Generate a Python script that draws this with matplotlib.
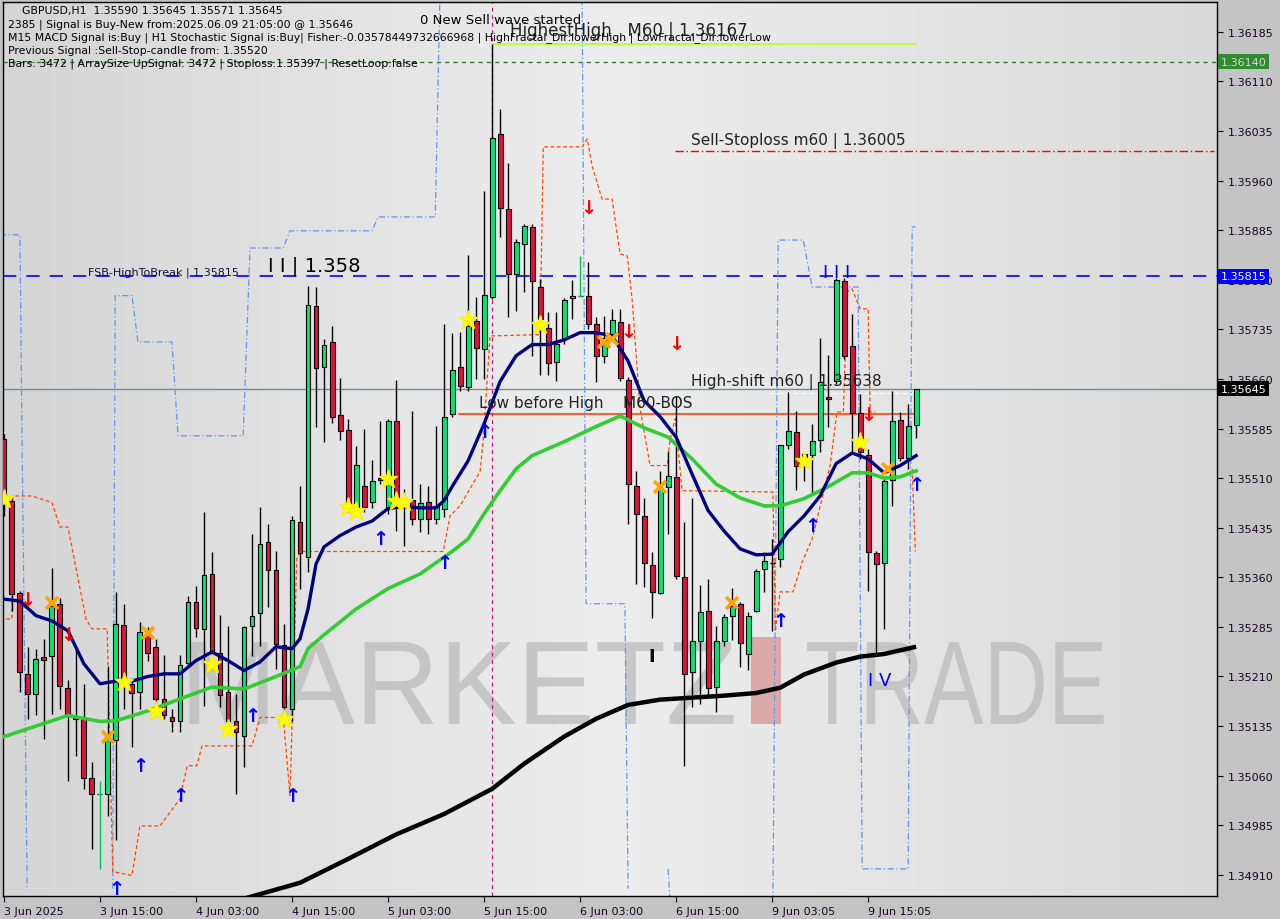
import numpy as np
import matplotlib
matplotlib.use("Agg")
import matplotlib.pyplot as plt
import matplotlib.transforms as mtransforms
from matplotlib.colors import LinearSegmentedColormap
from matplotlib.textpath import TextPath
from matplotlib.patches import PathPatch
from matplotlib.font_manager import FontProperties

# ---- candles (GBPUSD H1), index 0 = 3 Jun 2025 03:00
opens = [1.35569, 1.35476, 1.35337, 1.35214, 1.35184, 1.35240, 1.35241, 1.35320, 1.35193, 1.35149,
         1.35146, 1.35057, 1.35033, 1.35033, 1.35114, 1.35288, 1.35199, 1.35187, 1.35272, 1.35255,
         1.35176, 1.35148, 1.35143, 1.35231, 1.35323, 1.35282, 1.35365, 1.35246, 1.35187, 1.35143,
         1.35120, 1.35287, 1.35306, 1.35414, 1.35371, 1.35258, 1.35161, 1.35444, 1.35391, 1.35770,
         1.35678, 1.35716, 1.35606, 1.35583, 1.35464, 1.35498, 1.35474, 1.35510, 1.35464, 1.35597,
         1.35479, 1.35477, 1.35448, 1.35474, 1.35448, 1.35464, 1.35607, 1.35678, 1.35648, 1.35748,
         1.35705, 1.35784, 1.36031, 1.35917, 1.35819, 1.35864, 1.35890, 1.35799, 1.35737, 1.35686,
         1.35721, 1.35783, 1.35786, 1.35786, 1.35743, 1.35695, 1.35728, 1.35746, 1.35659, 1.35498,
         1.35453, 1.35379, 1.35337, 1.35497, 1.35512, 1.35360, 1.35217, 1.35264, 1.35309, 1.35194,
         1.35264, 1.35302, 1.35320, 1.35244, 1.35309, 1.35373, 1.35382, 1.35388, 1.35560, 1.35580,
         1.35547, 1.35545, 1.35568, 1.35633, 1.35657, 1.35808, 1.35710, 1.35609, 1.35545, 1.35396,
         1.35382, 1.35507, 1.35598, 1.35541, 1.35590]
highs = [1.35577, 1.35479, 1.35340, 1.35255, 1.35252, 1.35267, 1.35374, 1.35329, 1.35205, 1.35256,
         1.35199, 1.35081, 1.35052, 1.35226, 1.35338, 1.35320, 1.35207, 1.35293, 1.35285, 1.35267,
         1.35243, 1.35161, 1.35243, 1.35332, 1.35347, 1.35458, 1.35399, 1.35303, 1.35287, 1.35184,
         1.35287, 1.35426, 1.35467, 1.35441, 1.35400, 1.35290, 1.35453, 1.35498, 1.35801, 1.35799,
         1.35721, 1.35740, 1.35662, 1.35600, 1.35559, 1.35585, 1.35538, 1.35597, 1.35600, 1.35659,
         1.35494, 1.35612, 1.35501, 1.35498, 1.35589, 1.35743, 1.35730, 1.35731, 1.35848, 1.35784,
         1.35944, 1.36167, 1.36068, 1.35987, 1.35872, 1.35894, 1.35894, 1.35811, 1.35761, 1.35761,
         1.35783, 1.35810, 1.35846, 1.35837, 1.35754, 1.35755, 1.35766, 1.35766, 1.35663, 1.35521,
         1.35480, 1.35399, 1.35521, 1.35551, 1.35634, 1.35444, 1.35480, 1.35349, 1.35358, 1.35287,
         1.35305, 1.35344, 1.35323, 1.35308, 1.35373, 1.35399, 1.35418, 1.35560, 1.35640, 1.35612,
         1.35548, 1.35592, 1.35722, 1.35696, 1.35813, 1.35813, 1.35758, 1.35637, 1.35554, 1.35400,
         1.35509, 1.35642, 1.35610, 1.35622, 1.35645]
lows = [1.35453, 1.35309, 1.35187, 1.35146, 1.35151, 1.35116, 1.35154, 1.35161, 1.35052, 1.35090,
        1.35040, 1.34949, 1.34919, 1.34999, 1.34962, 1.35161, 1.35104, 1.35161, 1.35234, 1.35154,
        1.35146, 1.35126, 1.35126, 1.35226, 1.35270, 1.35166, 1.35222, 1.35164, 1.35126, 1.35033,
        1.35073, 1.35241, 1.35256, 1.35315, 1.35222, 1.35151, 1.35142, 1.35343, 1.35368, 1.35588,
        1.35565, 1.35594, 1.35568, 1.35459, 1.35456, 1.35459, 1.35465, 1.35501, 1.35456, 1.35430,
        1.35408, 1.35439, 1.35429, 1.35426, 1.35441, 1.35451, 1.35603, 1.35642, 1.35642, 1.35660,
        1.35660, 1.35781, 1.35875, 1.35754, 1.35763, 1.35792, 1.35695, 1.35666, 1.35666, 1.35657,
        1.35713, 1.35751, 1.35786, 1.35736, 1.35656, 1.35684, 1.35721, 1.35657, 1.35441, 1.35350,
        1.35346, 1.35299, 1.35334, 1.35426, 1.35358, 1.35075, 1.35164, 1.35169, 1.35179, 1.35157,
        1.35256, 1.35265, 1.35225, 1.35220, 1.35308, 1.35338, 1.35279, 1.35376, 1.35554, 1.35492,
        1.35506, 1.35486, 1.35550, 1.35588, 1.35653, 1.35690, 1.35550, 1.35539, 1.35340, 1.35241,
        1.35282, 1.35468, 1.35536, 1.35524, 1.35571]
closes = [1.35479, 1.35335, 1.35217, 1.35184, 1.35237, 1.35235, 1.35317, 1.35196, 1.35151, 1.35145,
          1.35057, 1.35033, 1.35033, 1.35116, 1.35290, 1.35199, 1.35185, 1.35278, 1.35246, 1.35176,
          1.35151, 1.35142, 1.35228, 1.35323, 1.35284, 1.35364, 1.35247, 1.35182, 1.35142, 1.35126,
          1.35285, 1.35302, 1.35411, 1.35371, 1.35259, 1.35164, 1.35447, 1.35396, 1.35772, 1.35677,
          1.35712, 1.35603, 1.35581, 1.35465, 1.35530, 1.35467, 1.35506, 1.35507, 1.35597, 1.35467,
          1.35471, 1.35448, 1.35473, 1.35448, 1.35468, 1.35603, 1.35674, 1.35650, 1.35740, 1.35707,
          1.35787, 1.36025, 1.35919, 1.35819, 1.35867, 1.35891, 1.35808, 1.35751, 1.35684, 1.35713,
          1.35780, 1.35786, 1.35786, 1.35743, 1.35695, 1.35722, 1.35749, 1.35662, 1.35501, 1.35456,
          1.35382, 1.35338, 1.35494, 1.35513, 1.35362, 1.35213, 1.35264, 1.35308, 1.35193, 1.35264,
          1.35300, 1.35317, 1.35261, 1.35302, 1.35370, 1.35385, 1.35382, 1.35560, 1.35581, 1.35529,
          1.35536, 1.35566, 1.35656, 1.35630, 1.35810, 1.35695, 1.35609, 1.35550, 1.35399, 1.35380,
          1.35506, 1.35597, 1.35541, 1.35589, 1.35645]
green_dojis = [12, 72]

# ---- moving averages (candle index, price)
navy_i = [0, 2, 4, 6, 8, 10, 12, 14, 16, 18, 20, 22, 24, 26, 28, 30, 32, 34, 36, 37, 38, 39,
          40, 42, 44, 46, 48, 50, 52, 54, 55, 56, 58, 60, 62, 64, 66, 68, 70, 72, 74, 76, 78,
          80, 82, 84, 86, 88, 90, 92, 94, 96, 98, 100, 102, 104, 106, 108, 110, 112, 114]
navy_p = [1.35327, 1.35324, 1.35302, 1.35294, 1.35279, 1.35229, 1.35199, 1.35203, 1.35203, 1.35210,
          1.35214, 1.35214, 1.35234, 1.35247, 1.35234, 1.35219, 1.35232, 1.35255, 1.35252, 1.35267,
          1.35312, 1.35380, 1.35406, 1.35423, 1.35436, 1.35445, 1.35464, 1.35467, 1.35465, 1.35465,
          1.35476, 1.35497, 1.35536, 1.35592, 1.35656, 1.35695, 1.35712, 1.35712, 1.35719, 1.35730,
          1.35730, 1.35725, 1.35687, 1.35627, 1.35603, 1.35572, 1.35516, 1.35461, 1.35430, 1.35403,
          1.35394, 1.35395, 1.35429, 1.35453, 1.35483, 1.35532, 1.35548, 1.35539, 1.35518, 1.35529,
          1.35544]
green_i = [0, 4, 8, 12, 14, 18, 22, 26, 30, 34, 37, 38, 40, 44, 48, 52, 56, 58, 60, 62, 64, 66,
           70, 74, 77, 80, 83, 86, 89, 92, 95, 97, 100, 103, 106, 108, 110, 112, 114]
green_p = [1.35119, 1.35135, 1.35151, 1.35142, 1.35143, 1.35158, 1.35176, 1.35194, 1.35191, 1.35210,
           1.35225, 1.35252, 1.35273, 1.35312, 1.35343, 1.35365, 1.35399, 1.35418, 1.35456, 1.35491,
           1.35524, 1.35544, 1.35565, 1.35588, 1.35604, 1.35586, 1.35572, 1.35539, 1.35501, 1.35480,
           1.35468, 1.35468, 1.35479, 1.35497, 1.35518, 1.35518, 1.35510, 1.35512, 1.35521]
black_i = [30, 37, 43, 49, 55, 61, 65, 70, 74, 78, 82, 86, 90, 94, 97, 100, 104, 107, 110, 114]
black_p = [1.34874, 1.34898, 1.34934, 1.34971, 1.35002, 1.35040, 1.35078, 1.35119, 1.35146, 1.35167,
           1.35175, 1.35178, 1.35181, 1.35185, 1.35193, 1.35213, 1.35231, 1.35240, 1.35244, 1.35255]

# ---- stepped envelopes
orange_i = [-0.5, 1, 1.1, 3.5, 5.75, 6, 7, 8, 9.1, 10.25, 11, 12.9, 13.6, 16, 17, 19.5, 22, 22.9,
            24.1, 24.75, 31, 32, 34.9, 35.75, 36.6, 37, 54.9, 55.75, 57, 59.5, 59.9, 60.75, 67,
            67.4, 72.25, 72.9, 73.5, 74.75, 76, 77, 77.9, 78.5, 79.5, 80.75, 82.9, 83.25, 83.9,
            84.75, 96.1, 96.4, 97, 98.6, 99.75, 101, 103.25, 104.1, 104.9, 105.4, 106, 107, 108,
            108.25, 108.9, 110, 113.5, 113.9]
orange_p = [1.35297, 1.35297, 1.35483, 1.35483, 1.35474, 1.35473, 1.35436, 1.35436, 1.35368, 1.35297,
            1.35282, 1.35282, 1.34915, 1.34909, 1.34984, 1.34984, 1.35025, 1.35075, 1.35075, 1.35105,
            1.35105, 1.35148, 1.35148, 1.35030, 1.35388, 1.35399, 1.35399, 1.35453, 1.35468, 1.35520,
            1.35569, 1.35725, 1.35727, 1.36011, 1.36011, 1.36023, 1.35982, 1.35932, 1.35932, 1.35849,
            1.35846, 1.35781, 1.35615, 1.35529, 1.35529, 1.35569, 1.35600, 1.35491, 1.35489, 1.35278,
            1.35338, 1.35338, 1.35383, 1.35418, 1.35529, 1.35610, 1.35610, 1.35792, 1.35796, 1.35766,
            1.35766, 1.35610, 1.35610, np.nan, 1.35524, 1.35399]
blue_i = [-0.5, 2, 2.25, 2.9, 3, 13.6, 13.9, 16, 16.75, 21, 21.75, 29.9, 30.75, 34.9, 35.75, 46,
          46.75, 53.9, 54.5, 60, 72.25, 72.75, 77.6, 78, 80, 83, 83.25, 90, 96.1, 96.75, 99.9,
          101, 106.75, 107.25, 113, 113.5, 113.9]
blue_p = [1.35878, 1.35878, 1.35585, 1.34889, np.nan, 1.34889, 1.35786, 1.35786, 1.35716, 1.35716,
          1.35574, 1.35574, 1.35858, 1.35858, 1.35884, 1.35884, 1.35905, 1.35905, 1.36250, np.nan,
          1.36250, 1.35320, 1.35320, 1.34889, np.nan, 1.34919, 1.34870, np.nan, 1.34870, 1.35870,
          1.35870, 1.35799, 1.35799, 1.34919, 1.34919, 1.35890, 1.35890]

# ---- signal markers
star_i = [0, 15, 19, 26, 28, 35, 43, 44, 48, 49, 50, 58, 67, 100, 107]
star_p = [1.35479, 1.35202, 1.35158, 1.35229, 1.35131, 1.35145, 1.35467, 1.35461, 1.35509, 1.35476,
          1.35474, 1.35749, 1.35742, 1.35536, 1.35565]
cross_i = [6, 13, 18, 75, 76, 82, 91, 110.5]
cross_p = [1.35321, 1.35119, 1.35276, 1.35716, 1.35721, 1.35497, 1.35321, 1.35524]
up_i = [14, 17, 22, 31, 36, 47, 55, 60, 97, 101, 114]
up_p = [1.34890, 1.35075, 1.35030, 1.35151, 1.35030, 1.35418, 1.35383, 1.35581, 1.35294, 1.35438,
        1.35501]
down_i = [3, 8, 73, 78, 84, 108]
down_p = [1.35327, 1.35273, 1.35920, 1.35731, 1.35713, 1.35606]

# ---- levels
fsb_high = 1.35815
bid = 1.35645
stop_level = 1.36140
sell_stoploss = 1.36005
highest_high = 1.36167
bos_level = 1.35607
high_shift = 1.35638

price_ticks = [1.34910, 1.34985, 1.35060, 1.35135, 1.35210, 1.35285, 1.35360, 1.35435, 1.35510,
               1.35585, 1.35660, 1.35735, 1.35810, 1.35885, 1.35960, 1.36035, 1.36110, 1.36185]
price_tick_labels = ['1.34910', '1.34985', '1.35060', '1.35135', '1.35210', '1.35285', '1.35360',
                     '1.35435', '1.35510', '1.35585', '1.35660', '1.35735', '1.35810', '1.35885',
                     '1.35960', '1.36035', '1.36110', '1.36185']
time_ticks = [0, 12, 24, 36, 48, 60, 72, 84, 96, 108]
time_labels = ['3 Jun 2025', '3 Jun 15:00', '4 Jun 03:00', '4 Jun 15:00', '5 Jun 03:00',
               '5 Jun 15:00', '6 Jun 03:00', '6 Jun 15:00', '9 Jun 03:05', '9 Jun 15:05']

header = ["    GBPUSD,H1  1.35590 1.35645 1.35571 1.35645",
          "2385 | Signal is Buy-New from:2025.06.09 21:05:00 @ 1.35646",
          "M15 MACD Signal is:Buy | H1 Stochastic Signal is:Buy| Fisher:-0.03578449732666968 | "
          "HighFractal_Dir:lowerHigh | LowFractal_Dir:lowerLow",
          "Previous Signal :Sell-Stop-candle from: 1.35520",
          "Bars: 3472 | ArraySize UpSignal: 3472 | Stoploss:1.35397 | ResetLoop:false"]

# ---------------------------------------------------------------------------
fig = plt.figure(figsize=(12.8, 9.2), dpi=100, facecolor='#c4c4c4')
ax = fig.add_axes([0.0023, 0.025, 0.9485, 0.9717])
ax.set_xlim(-0.125, 151.6)
ax.set_ylim(1.34878, 1.36230)

# background gradient
cmap = LinearSegmentedColormap.from_list('bg', ['#d5d5d5', '#e2e2e2', '#ededed', '#e4e4e4', '#dadada'])
ax.imshow(np.linspace(0, 1, 256).reshape(1, -1), cmap=cmap, aspect='auto',
          extent=[0, 1, 0, 1], transform=ax.transAxes, zorder=0)

# watermark (drawn as outlines so the letters can be squeezed like the logo font)
wm_font = FontProperties(family='Liberation Sans')
for word, x0, sx in [('MARKETZ', 180, 0.98), ('TRADE', 805, 0.75)]:
    tp = TextPath((0, 0), word, size=119, prop=wm_font)
    ax.add_patch(PathPatch(tp, transform=mtransforms.Affine2D().scale(sx, 1).translate(x0, 195),
                           facecolor='#b8b8b8', edgecolor='none', alpha=0.7, zorder=1))
ax.add_patch(plt.Rectangle((748 / 1214, 0.192), 30 / 1214, 0.098, transform=ax.transAxes,
                           facecolor='#d89a9a', edgecolor='none', alpha=0.8, zorder=1))

# horizontal levels
ax.axhline(stop_level, color='#2e7d32', lw=1, ls=(0, (3, 3)), zorder=2)
ax.axhline(fsb_high, color='#0000ff', lw=1.2, ls=(0, (8, 6)), zorder=2)
ax.axhline(bid, color='#778899', lw=1, zorder=2)
ax.plot([83.9, 151.2], [sell_stoploss, sell_stoploss], color='#ff0000', lw=1,
        ls=(0, (6, 2, 1, 2)), zorder=2)
ax.plot([61, 114], [highest_high, highest_high], color='#adff2f', lw=1.2, zorder=2)
ax.plot([56.9, 114], [bos_level, bos_level], color='#ff4500', lw=1.2, zorder=2)
ax.plot([95.75, 114], [high_shift, high_shift], color='white', lw=0.8, ls=(0, (4, 3)), zorder=2)
ax.axvline(61, color='#c71585', lw=0.9, ls=(0, (3, 3)), zorder=2)

# stepped envelopes
ax.plot(blue_i, blue_p, color='#6495ed', lw=0.9, ls=(0, (5, 2, 1, 2)), zorder=2)
ax.plot(orange_i, orange_p, color='#ff4500', lw=0.9, ls=(0, (3, 2)), zorder=2)

# candles
idx = np.arange(len(opens))
o = np.array(opens)
c = np.array(closes)
wick_col = ['#00c060' if i in green_dojis else 'black' for i in idx]
ax.vlines(idx, lows, highs, colors=wick_col, lw=1, zorder=3)
body_col = np.where(c >= o, '#00e676', '#dc143c')
bottoms = np.minimum(o, c)
heights = np.abs(c - o)
ax.bar(idx, heights, 0.62, bottom=bottoms, color=body_col, edgecolor='black', linewidth=0.8,
       zorder=4)
doji = heights < 1e-6
ax.hlines(o[doji], idx[doji] - 0.3, idx[doji] + 0.3,
          colors=[wick_col[i] for i in idx[doji]], lw=1, zorder=4)

# moving averages
ax.plot(black_i, black_p, color='black', lw=3.2, zorder=5, solid_capstyle='butt')
ax.plot(green_i, green_p, color='#32cd32', lw=2.6, zorder=5)
ax.plot(navy_i, navy_p, color='#000080', lw=2.4, zorder=5)

# markers
ax.plot(star_i, star_p, ls='none', marker='*', ms=14, color='#ffff00', mec='#ffee00', zorder=6)
ax.plot(cross_i, cross_p, ls='none', marker='x', ms=8, mew=2.6, color='#ffa500', zorder=6)
for xi, yi in zip(up_i, up_p):
    ax.text(xi, yi, '\u2191', color='#0000ff', fontsize=14, fontweight='bold', ha='center',
            va='center', zorder=6)
for xi, yi in zip(down_i, down_p):
    ax.text(xi, yi, '\u2193', color='#ff0000', fontsize=14, fontweight='bold', ha='center',
            va='center', zorder=6)

# chart annotations
ax.text(10.5, 1.35822, 'FSB-HighToBreak | 1.35815', fontsize=8, color='#111133', va='center', zorder=7)
ax.text(33, 1.35832, 'I I | 1.358', fontsize=14, color='black', va='center', zorder=7)
ax.text(104, 1.35822, 'I I I', fontsize=13, color='#0000ff', va='center', ha='center', zorder=7)
ax.text(109.4, 1.35205, 'I V', fontsize=13, color='#0000ff', va='center', ha='center', zorder=7)
ax.text(81, 1.35241, 'I', fontsize=13, color='black', va='center', ha='center', fontweight='bold', zorder=7)
ax.text(52, 1.36204, '0 New Sell wave started', fontsize=9.5, color='black', va='center', zorder=7)
ax.text(63.2, 1.36187, 'HighestHigh   M60 | 1.36167', fontsize=12, color='#222222', va='center', zorder=7)
ax.text(85.8, 1.36022, 'Sell-Stoploss m60 | 1.36005', fontsize=11, color='#222222', va='center', zorder=7)
ax.text(85.8, 1.35657, 'High-shift m60 | 1.35638', fontsize=11, color='#222222', va='center', zorder=7)
ax.text(59.4, 1.35624, 'Low before High    M60-BOS', fontsize=11, color='#222222', va='center', zorder=7)

for k, line in enumerate(header):
    ax.text(0.004, 0.991 - k * 0.0148, line, transform=ax.transAxes, fontsize=7.8, color='black',
            va='center', ha='left', zorder=7)

# axes styling
for s in ax.spines.values():
    s.set_color('black')
    s.set_linewidth(1)
ax.yaxis.tick_right()
ax.set_yticks(price_ticks)
ax.set_yticklabels(price_tick_labels, fontsize=8, color='#1a0026')
ax.set_xticks(time_ticks)
ax.set_xticklabels(time_labels, fontsize=8, color='#1a0026', ha='left')
ax.tick_params(axis='y', length=4, width=0.8, pad=4, colors='black', labelcolor='#1a0026')
ax.tick_params(axis='x', length=4, width=0.8, pad=3, colors='black', labelcolor='#1a0026')

trans = mtransforms.blended_transform_factory(ax.transAxes, ax.transData)
for val, bg, fg in [(stop_level, '#2e8b2e', '#d8d8d8'), (fsb_high, '#0000ff', 'white'),
                    (bid, 'black', 'white')]:
    ax.text(1.003, val, f'{val:.5f}', transform=trans, fontsize=8, color=fg, va='center',
            ha='left', zorder=8, clip_on=False,
            bbox=dict(facecolor=bg, edgecolor='none', pad=1.8))

fig.savefig('out.png', dpi=100, facecolor=fig.get_facecolor())
